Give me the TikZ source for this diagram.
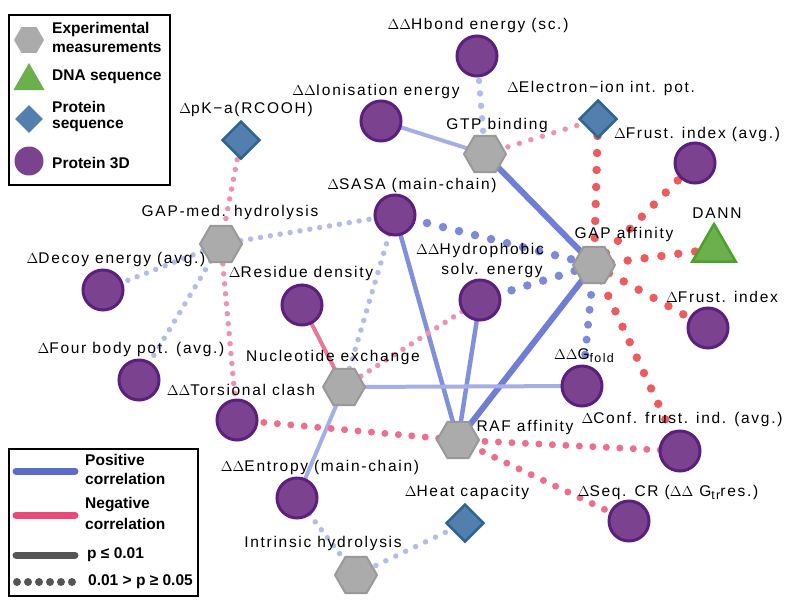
\documentclass[tikz,border=0pt]{standalone}
\usepackage{fontspec}
\setmainfont{Liberation Sans}
\newfontfamily\lab[LetterSpace=11]{Liberation Sans}
\usetikzlibrary{shapes.geometric}
\pgfdeclarelayer{bg}
\pgfsetlayers{bg,main}
\definecolor{purp}{HTML}{7B428F}
\definecolor{purpd}{HTML}{5B1F7E}
\definecolor{hexf}{HTML}{ABABAB}
\definecolor{hexd}{HTML}{999999}
\definecolor{dia}{HTML}{527FAE}
\definecolor{diad}{HTML}{2E6591}
\definecolor{tri}{HTML}{6CB04E}
\definecolor{trid}{HTML}{4DA12A}
\definecolor{blueA}{HTML}{6F7ED4}
\definecolor{blueB}{HTML}{8290DC}
\definecolor{blueC}{HTML}{A5AEE5}
\definecolor{blueD}{HTML}{7C8AD9}
\definecolor{blueL}{HTML}{B4BCEA}
\definecolor{pinkS}{HTML}{E8779A}
\definecolor{pinkL}{HTML}{EE93AE}
\definecolor{pinkM}{HTML}{EC6F8E}
\definecolor{redD}{HTML}{EC5B5E}
\definecolor{legblue}{HTML}{5B6CC6}
\definecolor{legpink}{HTML}{E84A78}
\definecolor{leggray}{HTML}{555555}
\tikzset{
  p3d/.style={circle, fill=purp, draw=purpd, line width=3pt, minimum size=40pt, inner sep=0pt},
  expm/.style={regular polygon, regular polygon sides=6, fill=hexf, draw=hexd, line width=2pt, minimum size=42pt, inner sep=0pt},
  protseq/.style={diamond, fill=dia, draw=diad, line width=2.5pt, minimum width=38pt, minimum height=38pt, inner sep=0pt},
  dnaseq/.style={regular polygon, regular polygon sides=3, fill=tri, draw=trid, line width=2.5pt, minimum size=50pt, inner sep=0pt},
  lbl/.style={font=\lab\fontsize{15.5}{17}\selectfont, inner sep=0pt},
  legtxt/.style={font=\bfseries\fontsize{15.5}{17}\selectfont, inner sep=0pt, anchor=west},
  dotline/.style n args={3}{draw=#1, line width=#2, dash pattern=on 0pt off #3, line cap=round},
  sb/.style={draw=blueA, line width=6pt},
  mb/.style={draw=blueB, line width=4.5pt},
  lb/.style={draw=blueC, line width=4pt},
  sp/.style={draw=pinkS, line width=4pt},
  ldb/.style={dotline={blueL}{5.5pt}{10pt}},
  hdb/.style={dotline={blueL}{6.5pt}{12.5pt}},
  bdb/.style={dotline={blueD}{8.5pt}{16.5pt}},
  lpd/.style={dotline={pinkL}{5.5pt}{10pt}},
  pd/.style={dotline={pinkM}{7pt}{13.5pt}},
  rd/.style={dotline={redD}{8.5pt}{17pt}},
}
\newcommand{\sbs}[1]{\raisebox{-3pt}{\fontsize{12.5}{12.5}\selectfont #1}}
\begin{document}
\begin{tikzpicture}[x=1pt,y=-1pt]
\path[use as bounding box] (0,0) rectangle (787,603);
% ---- nodes
\node[p3d] (hbond) at (477,56) {};
\node[p3d] (ionis) at (381,121) {};
\node[expm] (gtp) at (485,154) {};
\node[protseq] (elec) at (598,119) {};
\node[p3d] (frustavg) at (695,163) {};
\node[protseq] (pka) at (241,140) {};
\node[p3d] (sasa) at (395,215) {};
\node[expm] (gapmed) at (221,244) {};
\node[expm] (gapaff) at (594,265) {};
\node[dnaseq] (dann) at (714,249) {};
\node[p3d] (hydro) at (480,300) {};
\node[p3d] (decoy) at (103,290) {};
\node[p3d] (resid) at (302,305) {};
\node[p3d] (frust) at (708,328) {};
\node[p3d] (fourb) at (139,380) {};
\node[expm] (nucl) at (344,387) {};
\node[p3d] (tors) at (237,420) {};
\node[p3d] (gfold) at (582,386) {};
\node[expm] (raf) at (458,440) {};
\node[p3d] (conf) at (680,451) {};
\node[p3d] (entr) at (297,498) {};
\node[protseq] (heat) at (465,523) {};
\node[p3d] (seqcr) at (629,521) {};
\node[expm] (intr) at (356,575) {};
% ---- labels
\node[lbl] (Lhbond) at (478,25) {$\Delta\Delta$Hbond energy (sc.)};
\node[lbl] (Lionis) at (376,91) {$\Delta\Delta$Ionisation energy};
\node[lbl] (Lgtp) at (497,125) {GTP binding};
\node[lbl] (Lelec) at (601,88) {$\Delta$Electron−ion int. pot.};
\node[lbl] (Lfrustavg) at (697,134) {$\Delta$Frust. index (avg.)};
\node[lbl] (Lpka) at (246,109) {$\Delta$pK−a(RCOOH)};
\node[lbl] (Lsasa) at (412,185) {$\Delta$SASA (main-chain)};
\node[lbl] (Lgapmed) at (230,212) {GAP-med. hydrolysis};
\node[lbl] (Lgapaff) at (624,234) {GAP affinity};
\node[lbl] (Ldann) at (717,213) {DANN};
\node[lbl] (Lhydro1) at (480,250) {$\Delta\Delta$Hydrophobic};
\node[lbl] (Lhydro2) at (492,270) {solv. energy};
\node[lbl] (Lfrust) at (722,297) {$\Delta$Frust. index};
\node[lbl] (Ldecoy) at (116,259) {$\Delta$Decoy energy (avg.)};
\node[lbl] (Lresid) at (301,273) {$\Delta$Residue density};
\node[lbl] (Lfourb) at (131,349) {$\Delta$Four body pot. (avg.)};
\node[lbl] (Lnucl) at (333,357) {Nucleotide exchange};
\node[lbl] (Ltors) at (241,390) {$\Delta\Delta$Torsional clash};
\node[lbl] (Lgfold) at (584,356) {$\Delta\Delta$G\sbs{fold}};
\node[lbl] (Lraf) at (525,427) {RAF affinity};
\node[lbl] (Lconf) at (682,419) {$\Delta$Conf. frust. ind. (avg.)};
\node[lbl] (Lentr) at (320,467) {$\Delta\Delta$Entropy (main-chain)};
\node[lbl] (Lheat) at (467,492) {$\Delta$Heat capacity};
\node[lbl] (Lseqcr) at (668,492) {$\Delta$Seq. CR ($\Delta\Delta$ G\sbs{tr}res.)};
\node[lbl] (Lintr) at (323,543) {Intrinsic hydrolysis};
% ---- edges
\begin{pgfonlayer}{bg}
\draw[lb] (ionis.center) -- (gtp.center);
\draw[sb] (gtp.center) -- (gapaff.center);
\draw[mb] (sasa.center) -- (raf.center);
\draw[mb] (hydro.center) -- (raf.center);
\draw[sb] (gapaff.center) -- (raf.center);
\draw[lb] (nucl.center) -- (gfold.center);
\draw[lb] (nucl.center) -- (entr.center);
\draw[sp] (resid.center) -- (nucl.center);
\draw[hdb] (hbond.center) -- (gtp.center);
\draw[ldb] (gapmed.center) -- (sasa.center);
\draw[ldb] (gapmed.center) -- (decoy.center);
\draw[ldb] (gapmed.center) -- (fourb.center);
\draw[ldb] (sasa.center) -- (nucl.center);
\draw[bdb] (sasa.center) -- (gapaff.center);
\draw[bdb] (hydro.center) -- (gapaff.center);
\draw[dotline={blueD}{8pt}{15pt}] (gapaff.center) -- (gfold.center);
\draw[ldb] (entr.center) -- (intr.center);
\draw[dotline={blueL}{5.5pt}{11pt}] (intr.center) -- (heat.center);
\draw[dotline={pinkL}{5.5pt}{12pt}] (gtp.center) -- (elec.center);
\draw[rd] (elec.center) -- (gapaff.center);
\draw[lpd] (pka.center) -- (gapmed.center);
\draw[lpd] (gapmed.center) -- (tors.center);
\draw[rd] (gapaff.center) -- (frustavg.center);
\draw[rd] (gapaff.center) -- (dann.center);
\draw[rd] (gapaff.center) -- (frust.center);
\draw[rd] (gapaff.center) -- (conf.center);
\draw[lpd] (nucl.center) -- (hydro.center);
\draw[pd] (tors.center) -- (raf.center);
\draw[pd] (raf.center) -- (conf.center);
\draw[pd] (raf.center) -- (seqcr.center);
\end{pgfonlayer}
% ---- legend 1
\node[draw=black, line width=1.5pt, minimum width=161pt, minimum height=170pt, inner sep=0pt, anchor=north west] (leg1) at (8,14) {};
\node[regular polygon, regular polygon sides=6, fill=hexf, minimum size=30pt, inner sep=0pt] (k1) at (29,40) {};
\node[regular polygon, regular polygon sides=3, fill=tri, minimum size=36pt, inner sep=0pt] (k2) at (29,81) {};
\node[diamond, fill=dia, minimum width=28pt, minimum height=28pt, inner sep=0pt] (k3) at (29,119) {};
\node[circle, fill=purp, minimum size=29pt, inner sep=0pt] (k4) at (29,161) {};
\node[legtxt] (t1a) at (52,29) {Experimental};
\node[legtxt] (t1b) at (52,48) {measurements};
\node[legtxt] (t2) at (52,77) {DNA sequence};
\node[legtxt] (t3a) at (52,107) {Protein};
\node[legtxt] (t3b) at (52,126) {sequence};
\node[legtxt] (t4) at (52,163) {Protein 3D};
% ---- legend 2
\node[draw=black, line width=1.5pt, minimum width=189pt, minimum height=147pt, inner sep=0pt, anchor=north west] (leg2) at (8,448) {};
\coordinate (a1) at (16,471); \coordinate (a2) at (75,471);
\coordinate (b1) at (16,515); \coordinate (b2) at (75,515);
\coordinate (c1) at (16,555); \coordinate (c2) at (75,555);
\coordinate (d1) at (17,582); \coordinate (d2) at (75,582);
\draw[draw=legblue, line width=7pt, line cap=round] (a1) -- (a2);
\draw[draw=legpink, line width=7pt, line cap=round] (b1) -- (b2);
\draw[draw=leggray, line width=7pt, line cap=round] (c1) -- (c2);
\draw[dotline={leggray}{8pt}{11pt}] (d1) -- (d2);
\node[legtxt] (u1a) at (85,460) {Positive};
\node[legtxt] (u1b) at (85,479) {correlation};
\node[legtxt] (u2a) at (85,505) {Negative};
\node[legtxt] (u2b) at (85,524) {correlation};
\node[legtxt] (u3) at (87,555) {p ≤ 0.01};
\node[legtxt] (u4) at (88,582) {0.01 > p ≥ 0.05};
\end{tikzpicture}
\end{document}
